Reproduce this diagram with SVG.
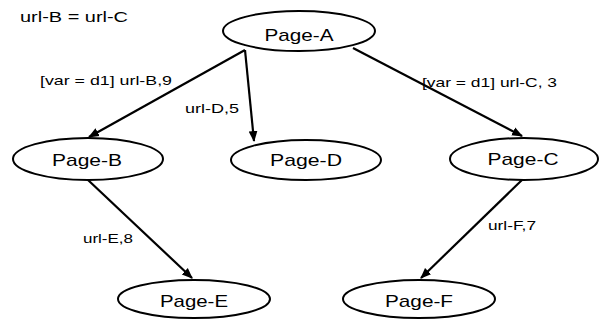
<svg xmlns="http://www.w3.org/2000/svg" width="604" height="320" viewBox="0 0 604 320">
<style>
.node ellipse{fill:#fff;stroke:#000;stroke-width:2}
.node text{font-family:"Liberation Sans",Arial,sans-serif;font-size:17px;fill:#000;text-anchor:middle}
.lbl{font-family:"Liberation Sans",Arial,sans-serif;font-size:13px;fill:#000}
#edges line{stroke:#000;stroke-width:2.2;marker-end:url(#arr)}
</style>
<defs>
<marker id="arr" viewBox="0 0 10 10" refX="9" refY="5" markerWidth="5" markerHeight="5" orient="auto" markerUnits="strokeWidth">
<path d="M0,1 L10,5 L0,9 z" fill="#000"/>
</marker>
</defs>
<rect width="604" height="320" fill="#fff"/>
<text class="lbl" x="20" y="22" font-size="15" textLength="108" lengthAdjust="spacingAndGlyphs" style="font-size:15px">url-B = url-C</text>
<g id="edges">
<line x1="245" y1="50" x2="89" y2="137"/>
<line x1="245" y1="50" x2="254" y2="141"/>
<line x1="353" y1="48" x2="522" y2="136"/>
<line x1="88" y1="180" x2="192" y2="278"/>
<line x1="523" y1="179" x2="421" y2="278"/>
</g>
<text class="lbl" x="40" y="85" textLength="132" lengthAdjust="spacingAndGlyphs">[var = d1] url-B,9</text>
<text class="lbl" x="185" y="113" textLength="54" lengthAdjust="spacingAndGlyphs">url-D,5</text>
<text class="lbl" x="422" y="87" textLength="135" lengthAdjust="spacingAndGlyphs">[var = d1] url-C, 3</text>
<text class="lbl" x="83" y="243" textLength="50" lengthAdjust="spacingAndGlyphs">url-E,8</text>
<text class="lbl" x="488" y="230" textLength="48" lengthAdjust="spacingAndGlyphs">url-F,7</text>
<g id="page-a" class="node"><ellipse cx="299" cy="31" rx="76" ry="20"/><text x="299" y="41" textLength="69" lengthAdjust="spacingAndGlyphs">Page-A</text></g>
<g id="page-b" class="node"><ellipse cx="88" cy="159" rx="75" ry="21"/><text x="87" y="166" textLength="70" lengthAdjust="spacingAndGlyphs">Page-B</text></g>
<g id="page-d" class="node"><ellipse cx="306" cy="160" rx="75" ry="20"/><text x="306" y="166" textLength="72" lengthAdjust="spacingAndGlyphs">Page-D</text></g>
<g id="page-c" class="node"><ellipse cx="524" cy="159" rx="74" ry="21"/><text x="523" y="165" textLength="71" lengthAdjust="spacingAndGlyphs">Page-C</text></g>
<g id="page-e" class="node"><ellipse cx="194" cy="299" rx="76" ry="19"/><text x="194" y="307" textLength="68" lengthAdjust="spacingAndGlyphs">Page-E</text></g>
<g id="page-f" class="node"><ellipse cx="419" cy="299" rx="76" ry="19"/><text x="419" y="307" textLength="68" lengthAdjust="spacingAndGlyphs">Page-F</text></g>
</svg>
